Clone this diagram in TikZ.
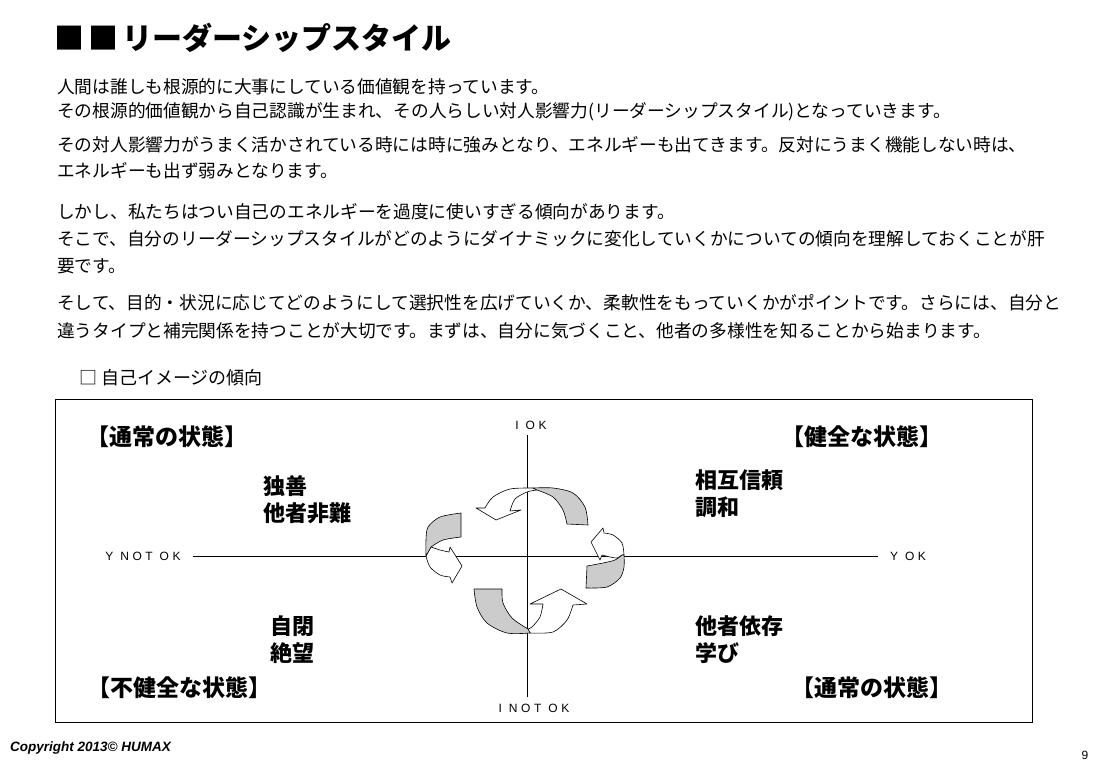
\documentclass[tikz,border=0pt]{standalone}
\usepackage{fontspec}
\newfontfamily\jp{Noto Sans CJK JP}
\newfontfamily\axisfont[LetterSpace=30]{Liberation Sans}
\newfontfamily\latinfont{Liberation Sans}
\tikzset{
  bodyline/.style={anchor=west, inner sep=0pt, font=\jp\fontsize{17.7}{21}\selectfont},
  cornerlabel/.style={anchor=west, inner sep=0pt, font=\jp\bfseries\fontsize{23}{26}\selectfont},
  quadlabel/.style={anchor=west, inner sep=0pt, align=left, font=\jp\bfseries\fontsize{22}{27}\selectfont},
  axislabel/.style={inner sep=0pt, font=\axisfont\fontsize{12}{14}\selectfont},
  ribbon/.style={draw=black, fill=gray!40, line width=0.6pt, line join=round},
  turnarrow/.style={draw=black, fill=white, line width=0.6pt, line join=round},
}
\begin{document}
\begin{tikzpicture}[x=1pt,y=-1pt]
\useasboundingbox (0,0) rectangle (1107,767);
\node[anchor=west, inner sep=0pt, font=\jp\bfseries\fontsize{30}{34}\selectfont] (title) at (54,38) {■\hspace{4pt}■\hspace{4pt}リーダーシップスタイル};

\node[bodyline] (l1) at (57,87) {人間は誰しも根源的に大事にしている価値観を持っています。};
\node[bodyline] (l2) at (57,112) {その根源的価値観から自己認識が生まれ、その人らしい対人影響力(リーダーシップスタイル)となっていきます。};
\node[bodyline] (l3) at (57,145) {その対人影響力がうまく活かされている時には時に強みとなり、エネルギーも出てきます。反対にうまく機能しない時は、};
\node[bodyline] (l4) at (57,171) {エネルギーも出ず弱みとなります。};
\node[bodyline] (l5) at (57,212) {しかし、私たちはつい自己のエネルギーを過度に使いすぎる傾向があります。};
\node[bodyline] (l6) at (57,239) {そこで、自分のリーダーシップスタイルがどのようにダイナミックに変化していくかについての傾向を理解しておくことが肝};
\node[bodyline] (l7) at (57,266) {要です。};
\node[bodyline] (l8) at (57,303) {そして、目的・状況に応じてどのようにして選択性を広げていくか、柔軟性をもっていくかがポイントです。さらには、自分と};
\node[bodyline] (l9) at (57,331) {違うタイプと補完関係を持つことが大切です。まずは、自分に気づくこと、他者の多様性を知ることから始まります。};

\node[bodyline, font=\jp\fontsize{18}{21}\selectfont] (sub) at (79,378) {□ 自己イメージの傾向};

\draw[line width=0.8pt] (55,399) rectangle (1032,722);

\coordinate (vtop) at (527,435);
\coordinate (vbot) at (527,697);
\coordinate (hleft) at (193,556);
\coordinate (hright) at (878,556);
\draw[line width=0.8pt] (vtop) -- (vbot);
\draw[line width=0.8pt] (hleft) -- (hright);
\node[axislabel] (iok) at (531,425) {I OK};
\node[axislabel] (inotok) at (534,708) {I NOT OK};
\node[axislabel] (ynotok) at (143,556) {Y NOT OK};
\node[axislabel] (yok) at (908,556) {Y OK};

\node[cornerlabel] (nw) at (86,437) {【通常の状態】};
\node[cornerlabel] (ne) at (781,437) {【健全な状態】};
\node[cornerlabel] (sw) at (87,688) {【不健全な状態】};
\node[cornerlabel] (se) at (791,688) {【通常の状態】};

\node[quadlabel] (q2) at (263,500) {独善\\他者非難};
\node[quadlabel] (q1) at (695,494) {相互信頼\\調和};
\node[quadlabel] (q3) at (270,640) {自閉\\絶望};
\node[quadlabel] (q4) at (695,640) {他者依存\\学び};

\filldraw[turnarrow] (533,488) plot[smooth] coordinates {(533,488) (510,489) (493,497) (485,508)}
  -- (476,508) -- (496,520) -- (521,510) -- (510,511)
  -- plot[smooth] coordinates {(510,511) (515,499) (527,492) (537,490)} -- cycle;
\filldraw[ribbon] (588,525) plot[smooth] coordinates {(588,525) (585,507) (573,493) (553,488) (533,488)}
  -- plot[smooth] coordinates {(537,490) (553,497) (563,510) (567,524)} -- cycle;

\filldraw[turnarrow] (426,556) plot[smooth] coordinates {(426,556) (430,567) (440,575) (450,577)}
  -- (452,583) -- (462,566) -- (450,547) -- (449,552)
  -- plot[smooth] coordinates {(449,552) (440,550) (431,547)} -- cycle;
\filldraw[ribbon] (461,513) plot[smooth] coordinates {(461,513) (440,517) (428,527) (426,540) (426,556)}
  -- plot[smooth] coordinates {(431,547) (443,540) (461,537)} -- cycle;

\filldraw[turnarrow] (624,555) plot[smooth] coordinates {(624,555) (622,543) (613,535) (604,533)}
  -- (603,528) -- (591,542) -- (600,560) -- (602,555)
  -- plot[smooth] coordinates {(602,555) (610,557) (617,558) (622,555)} -- cycle;
\filldraw[ribbon] (586,588) plot[smooth] coordinates {(586,588) (607,587) (620,578) (624,567) (624,555)}
  -- plot[smooth] coordinates {(622,555) (615,560) (603,563) (587,566)} -- cycle;

\filldraw[turnarrow] (530,633) plot[smooth] coordinates {(530,633) (553,632) (567,620) (573,605)}
  -- (587,604) -- (561,589) -- (530,604) -- (543,604)
  -- plot[smooth] coordinates {(543,604) (540,617) (532,627) (528,629)} -- cycle;
\filldraw[ribbon] (474,589) plot[smooth] coordinates {(474,589) (477,607) (487,623) (507,633) (530,633)}
  -- plot[smooth] coordinates {(528,629) (512,618) (503,603) (502,589)} -- cycle;

\node[anchor=west, inner sep=0pt, font=\latinfont\bfseries\itshape\fontsize{13.5}{15}\selectfont] (copy) at (10,748) {Copyright 2013© HUMAX};
\node[inner sep=0pt, font=\latinfont\fontsize{12}{14}\selectfont] (page) at (1085,755) {9};
\end{tikzpicture}
\end{document}
